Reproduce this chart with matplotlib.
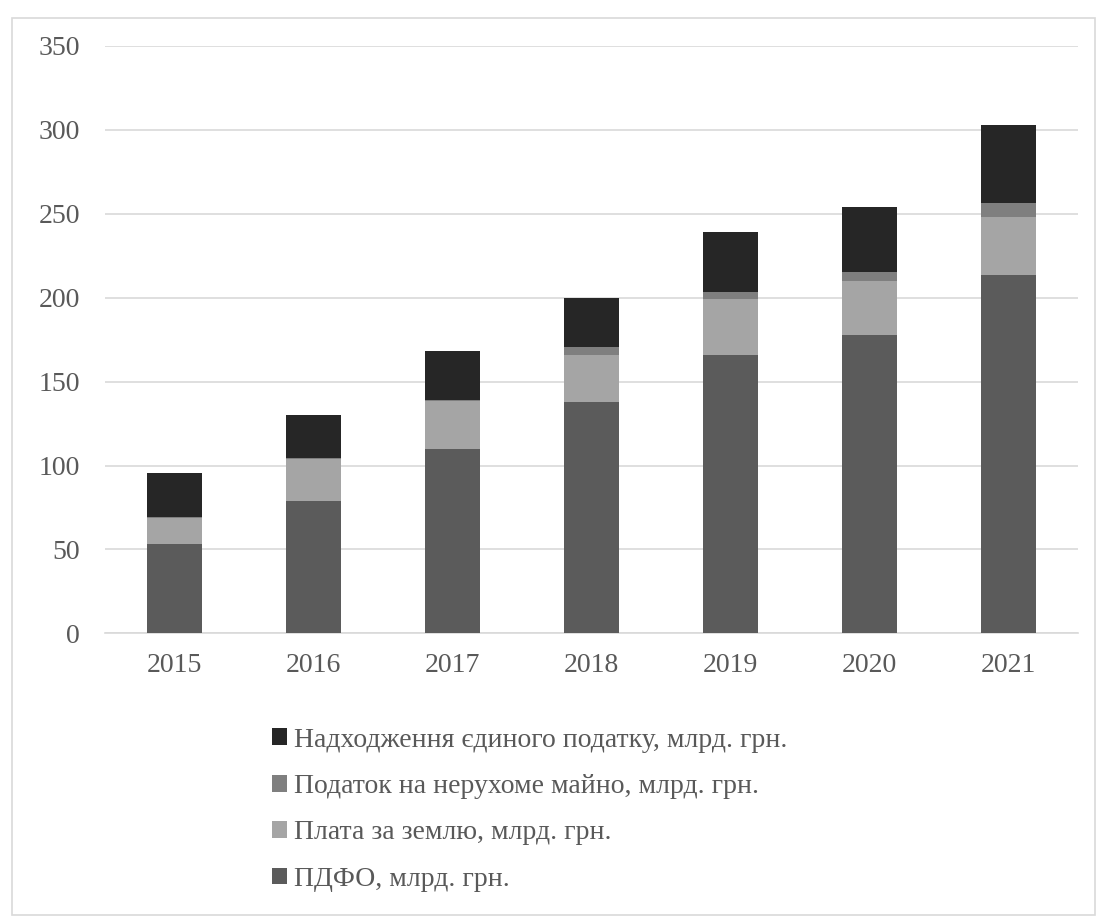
import matplotlib
matplotlib.use('Agg')
import matplotlib.pyplot as plt
from matplotlib.patches import Rectangle
import numpy as np

years = ['2015', '2016', '2017', '2018', '2019', '2020', '2021']
pdfo = [53.0, 79.0, 110.0, 138.0, 166.0, 178.0, 213.6]
land = [15.6, 24.6, 28.3, 28.0, 33.0, 32.0, 34.4]
property_tax = [0.5, 0.7, 1.0, 4.4, 4.6, 5.5, 8.4]
single_tax = [26.3, 26.1, 29.0, 29.6, 35.4, 38.5, 46.6]

labels = [
    'ПДФО, млрд. грн.',
    'Плата за землю, млрд. грн.',
    'Податок на нерухоме майно, млрд. грн.',
    'Надходження єдиного податку, млрд. грн.',
]
colors = ['#5b5b5b', '#a5a5a5', '#7f7f7f', '#262626']

plt.rcParams['font.family'] = ['Liberation Serif', 'DejaVu Serif']

fig = plt.figure(figsize=(10.96, 9.18), dpi=100)
ax = fig.add_axes([0.0958, 0.3101, 0.8878, 0.6398])

x = np.arange(len(years))
bottom = np.zeros(len(years))
handles = []
for vals, lab, col in zip([pdfo, land, property_tax, single_tax], labels, colors):
    h = ax.bar(x, vals, width=0.4, bottom=bottom, color=col, label=lab, zorder=3)
    handles.append(h)
    bottom += np.array(vals)

ax.set_xlim(-0.5, len(years) - 0.5)
ax.set_ylim(0, 350)
ax.set_yticks(range(0, 351, 50))
ax.set_xticks(x)
ax.set_xticklabels(years)
ax.grid(axis='y', color='#d9d9d9', linewidth=1.2, zorder=0)
for s in ['top', 'right', 'left']:
    ax.spines[s].set_visible(False)
ax.spines['bottom'].set_color('#d9d9d9')
ax.spines['bottom'].set_linewidth(1.2)
ax.tick_params(length=0, labelsize=20, labelcolor='#595959')
ax.tick_params(axis='y', pad=18)
ax.tick_params(axis='x', pad=14)

fig.legend(handles[::-1], labels[::-1], loc='upper left',
           bbox_to_anchor=(0.238, 0.2195), frameon=False,
           fontsize=20, labelcolor='#595959',
           handlelength=0.55, handleheight=0.55, handletextpad=0.25,
           labelspacing=0.77, borderaxespad=0)

fig.patches.append(Rectangle((0.011, 0.003), 0.988, 0.977, transform=fig.transFigure,
                             fill=False, edgecolor='#d9d9d9', linewidth=1.2))

fig.savefig('out.png', dpi=100)
